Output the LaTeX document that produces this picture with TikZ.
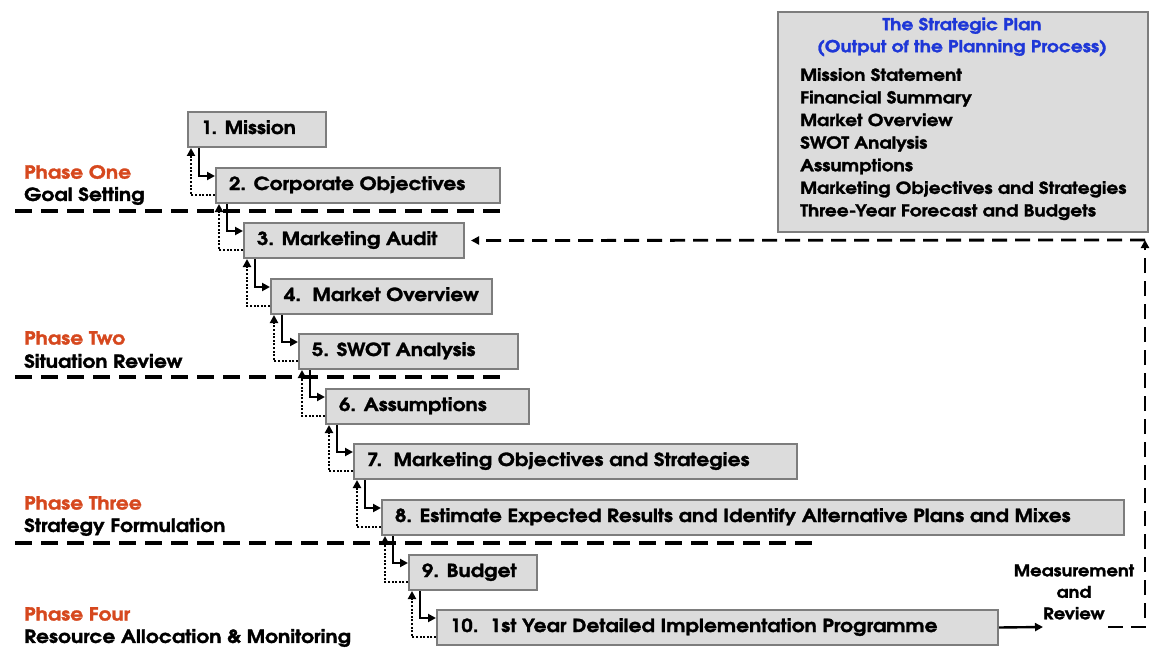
\documentclass[tikz,border=0pt]{standalone}
\usepackage{fontspec}
\newfontfamily\advb[FakeBold=1.6, FakeStretch=1.13]{texgyreadventor-bold.otf}
\usetikzlibrary{arrows.meta}
\definecolor{boxfill}{RGB}{220,220,220}
\definecolor{boxline}{RGB}{125,125,125}
\definecolor{phasecol}{RGB}{214,72,30}
\definecolor{titleblue}{RGB}{30,55,215}
\newcommand\lbl[2]{\makebox[#1][l]{#2}}
\begin{document}
\begin{tikzpicture}[x=1pt,y=-1pt,
  stepbox/.style={draw=boxline, fill=boxfill, line width=2pt, anchor=north west,
    minimum height=35pt, inner xsep=13pt, inner ysep=0pt,
    font=\advb\fontsize{18}{20}\selectfont, text height=12.5pt, text depth=3.5pt},
  flow/.style={line width=2.4pt, -{Triangle[length=8pt,width=8pt]}},
  back/.style={line width=2.6pt, dash pattern=on 2pt off 1.6pt, -{Triangle[length=8pt,width=8pt]}},
  phaseline/.style={line width=3.2pt, dash pattern=on 17pt off 9pt},
  fbline/.style={line width=2.8pt, dash pattern=on 15pt off 8pt},
  phasehead/.style={anchor=west, text=phasecol, font=\advb\fontsize{18}{20}\selectfont, inner sep=0pt},
  phasename/.style={anchor=west, font=\advb\fontsize{18}{20}\selectfont, inner sep=0pt},
]
\useasboundingbox (0,0) rectangle (1154,650);

% phase separators
\draw[phaseline] (15,211) -- (500,211);
\draw[phaseline] (15,377) -- (500,377);
\draw[phaseline] (15,543) -- (820,543);

% phase labels
\node[phasehead] (p1h) at (24,172) {Phase One};
\node[phasename] (p1n) at (24,196) {Goal Setting};
\node[phasehead] (p2h) at (24,338) {Phase Two};
\node[phasename] (p2n) at (24,361) {Situation Review};
\node[phasehead] (p3h) at (24,503) {Phase Three};
\node[phasename] (p3n) at (24,527) {Strategy Formulation};
\node[phasehead] (p4h) at (24,614) {Phase Four};
\node[phasename] (p4n) at (24,638) {Resource Allocation \& Monitoring};

% planning steps
\node[stepbox] (b1)  at (187,111) {\lbl{112pt}{1. Mission}};
\node[stepbox] (b2)  at (215,167) {\lbl{258pt}{2. Corporate Objectives}};
\node[stepbox] (b3)  at (243,222) {\lbl{194pt}{3. Marketing Audit}};
\node[stepbox] (b4)  at (270,278) {\lbl{195pt}{4.\ \ Market Overview}};
\node[stepbox] (b5)  at (298,333) {\lbl{193pt}{5. SWOT Analysis}};
\node[stepbox] (b6)  at (325,388) {\lbl{177pt}{6. Assumptions}};
\node[stepbox] (b7)  at (353,443) {\lbl{417pt}{7.\ \ Marketing Objectives and Strategies}};
\node[stepbox] (b8)  at (381,499) {\lbl{716pt}{8. Estimate Expected Results and Identify Alternative Plans and Mixes}};
\node[stepbox] (b9)  at (408,554) {\lbl{102pt}{9. Budget}};
\node[stepbox] (b10) at (436,609) {\lbl{535pt}{10.\ \ 1st Year Detailed Implementation Programme}};

% forward and backward links between consecutive steps
\foreach \a/\b in {b1/b2,b2/b3,b3/b4,b4/b5,b5/b6,b6/b7,b7/b8,b8/b9,b9/b10}{
  \draw[flow] ([xshift=12pt]\a.south west) |- ([yshift=-9pt]\b.north west);
  \draw[back] ([yshift=9pt]\b.south west) -| ([xshift=4pt]\a.south west);
}

% strategic plan summary
\node[draw=boxline, fill=boxfill, line width=2pt, anchor=north west,
  minimum width=370pt, minimum height=220pt, inner sep=0pt] (plan) at (777,11) {};
\node[text=titleblue, align=center, font=\advb\fontsize{16.5}{22}\selectfont,
  inner sep=0pt] (title) at (962,37) {The Strategic Plan\\(Output of the Planning Process)};
\node[anchor=north west, align=left, font=\advb\fontsize{16.5}{22.6}\selectfont,
  inner sep=0pt] (items) at (800,68) {Mission Statement\\Financial Summary\\Market Overview\\SWOT Analysis\\Assumptions\\Marketing Objectives and Strategies\\Three-Year Forecast and Budgets};

% measurement and review loop
\node[align=center, font=\advb\fontsize{16}{21.5}\selectfont, inner sep=0pt] (mr) at (1074,592) {Measurement\\and\\Review};
\coordinate (m1) at (1043,627);
\coordinate (m2) at (1108,627);
\coordinate (corner) at (1145,240);
\draw[flow] (b10.east) -- (m1);
\draw[fbline, -{Triangle[length=8pt,width=8pt]}] (m2) -| (corner);
\draw[fbline, -{Triangle[length=8pt,width=8pt]}] (corner) -- ([xshift=6pt]b3.east);
\end{tikzpicture}
\end{document}
